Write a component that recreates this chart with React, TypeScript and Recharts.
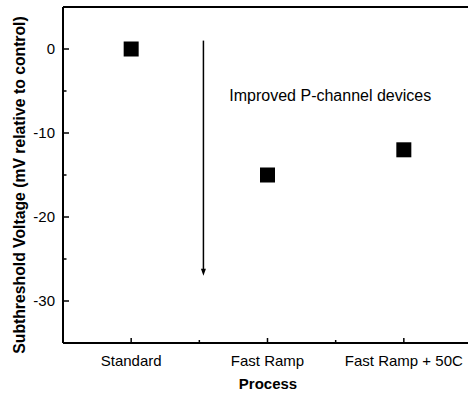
import React from "react";
import {
  ScatterChart,
  Scatter,
  XAxis,
  YAxis,
  ReferenceLine,
  ReferenceDot,
  Label,
} from "recharts";

const processes = ["Standard", "Fast Ramp", "Fast Ramp + 50C"];
const shiftMv = [0, -15, -12];
const yTicks = [-30, -25, -20, -15, -10, -5, 0];
const xTicks = [1, 1.5, 2, 2.5, 3];
const note = "Improved P-channel devices";

const points = processes.map((name, i) => ({ x: i + 1, y: shiftMv[i], name }));

const FONT = "'Liberation Sans', Arial, Helvetica, sans-serif";

const SquareMark = (props: any) => {
  const { cx, cy } = props;
  return <rect x={cx - 7.5} y={cy - 7.5} width={15} height={15} fill="#000" />;
};

const XTick = (props: any) => {
  const { x, y, payload } = props;
  const major = Number.isInteger(payload.value);
  return (
    <g>
      <line x1={x} x2={x} y1={y} y2={y - (major ? 5 : 3)} stroke="#000" strokeWidth={1.5} />
      {major && (
        <text x={x} y={y + 23} textAnchor="middle" fontSize={15} fontFamily={FONT} fill="#000">
          {processes[payload.value - 1]}
        </text>
      )}
    </g>
  );
};

const YTick = (props: any) => {
  const { x, y, payload } = props;
  const major = payload.value % 10 === 0;
  return (
    <g>
      <line x1={x} x2={x + (major ? 6 : 3.5)} y1={y} y2={y} stroke="#000" strokeWidth={1.5} />
      {major && (
        <text x={x - 8} y={y} dy="0.36em" textAnchor="end" fontSize={15} fontFamily={FONT} fill="#000">
          {payload.value}
        </text>
      )}
    </g>
  );
};

// vertical arrow pointing down, drawn from the segment ends
const Arrow = (props: any) => {
  const { x1, y1, x2, y2 } = props;
  return (
    <g>
      <line x1={x1} y1={y1} x2={x2} y2={y2 - 5} stroke="#000" strokeWidth={1.5} />
      <polygon points={`${x2 - 2.5},${y2 - 7} ${x2 + 2.5},${y2 - 7} ${x2},${y2}`} fill="#000" />
    </g>
  );
};

const NoteText = (props: any) => {
  const { cx, cy } = props;
  return (
    <text x={cx} y={cy} dy="0.36em" fontSize={16} fontFamily={FONT} fill="#000">
      {note}
    </text>
  );
};

export default function App() {
  return (
    <div style={{ position: "absolute", left: 0, top: 0, width: 468, height: 394, overflow: "hidden", background: "#fff" }}>
      <ScatterChart width={480} height={394} margin={{ top: 7, right: 8, left: 0, bottom: 0 }}>
        <XAxis
          type="number"
          dataKey="x"
          domain={[0.5, 3.5]}
          ticks={xTicks}
          height={51}
          tickSize={0}
          tickMargin={0}
          tickLine={false}
          tick={<XTick />}
          axisLine={{ stroke: "#000", strokeWidth: 2 }}
          interval={0}
        >
          <Label
            content={() => (
              <text x={268} y={389} textAnchor="middle" fontSize={15} fontWeight="bold" fontFamily={FONT} fill="#000">
                Process
              </text>
            )}
          />
        </XAxis>
        <YAxis
          type="number"
          dataKey="y"
          domain={[-35, 5]}
          ticks={yTicks}
          width={63}
          tickSize={0}
          tickMargin={0}
          tickLine={false}
          tick={<YTick />}
          axisLine={{ stroke: "#000", strokeWidth: 2 }}
          interval={0}
        >
          <Label
            content={() => (
              <text
                x={25}
                y={185}
                transform="rotate(-90 25 185)"
                textAnchor="middle"
                fontSize={15.75}
                fontWeight="bold"
                fontFamily={FONT}
                fill="#000"
              >
                Subthreshold Voltage (mV relative to control)
              </text>
            )}
          />
        </YAxis>
        <ReferenceLine y={5} stroke="#000" strokeWidth={2} />
        <ReferenceLine
          segment={[
            { x: 1.53, y: 1 },
            { x: 1.53, y: -27 },
          ]}
          shape={Arrow}
        />
        <ReferenceDot x={1.72} y={-5.5} r={0} shape={NoteText} />
        <Scatter data={points} fill="#000" shape={SquareMark} isAnimationActive={false} />
      </ScatterChart>
    </div>
  );
}
